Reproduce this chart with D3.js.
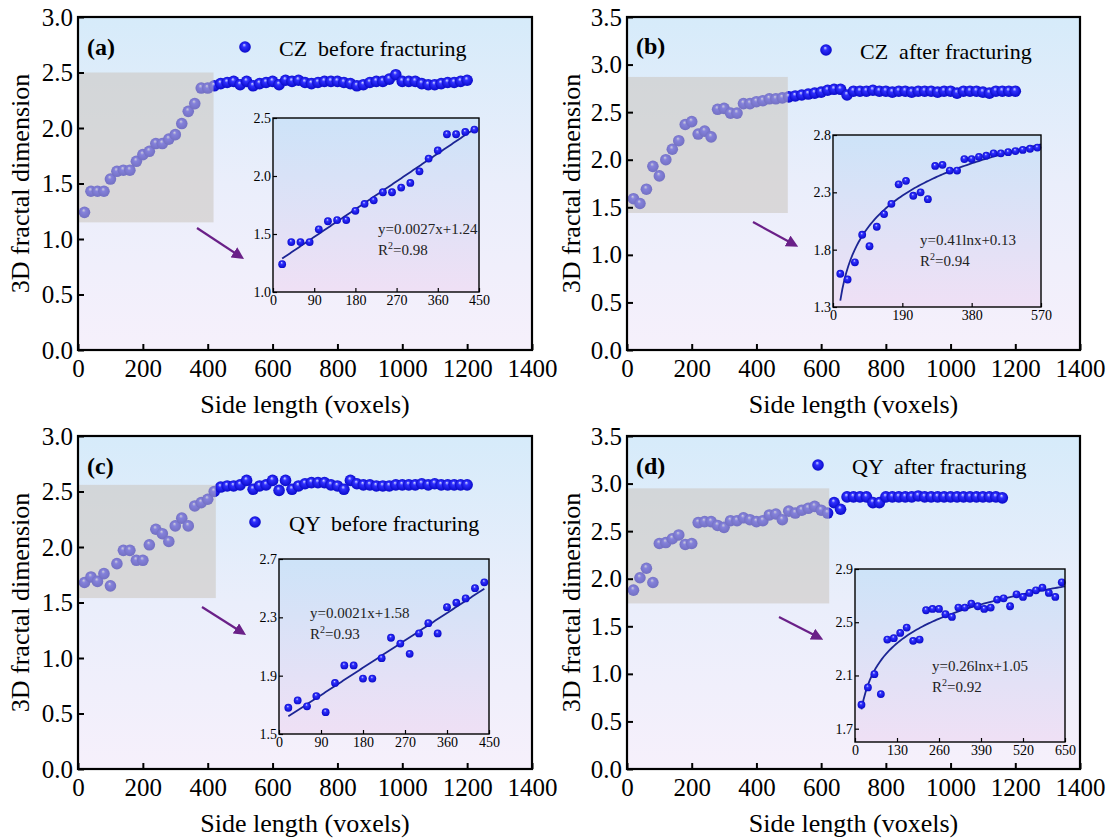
<!DOCTYPE html>
<html>
<head>
<meta charset="utf-8">
<script src="https://cdn.jsdelivr.net/npm/d3@7"></script>
<style>
  body { margin: 0; background: #fff; }
  svg, svg text { font-family: "Liberation Serif", "Times New Roman", serif; }
  svg { display: block; }
</style>
</head>
<body>
<svg id="chart" width="1112" height="838"></svg>
<script>
// side lengths of the boxes (voxels), shared by all four samples
const sideLengths = [20, 40, 60, 80, 100, 120, 140, 160, 180, 200, 220, 240, 260, 280, 300,
    320, 340, 360, 380, 400, 420, 440, 460, 480, 500, 520, 540, 560, 580, 600, 620, 640,
    660, 680, 700, 720, 740, 760, 780, 800, 820, 840, 860, 880, 900, 920, 940, 960, 980,
    1000, 1020, 1040, 1060, 1080, 1100, 1120, 1140, 1160, 1180, 1200];

// 3D fractal dimension
const czBefore = [1.24, 1.43, 1.43, 1.43, 1.54, 1.61, 1.62, 1.62, 1.70, 1.76, 1.79, 1.86,
    1.86, 1.90, 1.94, 2.04, 2.15, 2.22, 2.36, 2.36, 2.38, 2.40,
    2.41, 2.42, 2.39, 2.42, 2.38, 2.40, 2.41, 2.42, 2.39, 2.43, 2.42, 2.43, 2.41, 2.40,
    2.41, 2.42, 2.42, 2.42, 2.41, 2.40, 2.38, 2.39, 2.41, 2.42, 2.42, 2.44, 2.48, 2.42,
    2.42, 2.42, 2.40, 2.39, 2.39, 2.40, 2.41, 2.41, 2.42, 2.43];

const czAfter = [1.59, 1.54, 1.69, 1.93, 1.83, 2.00, 2.11, 2.20, 2.37, 2.40, 2.27, 2.30,
    2.24, 2.53, 2.54, 2.49, 2.49, 2.59, 2.59, 2.61, 2.62, 2.64, 2.64, 2.65, 2.66, 2.67,
    2.68, 2.69,
    2.70, 2.71, 2.73, 2.74, 2.74, 2.68, 2.72, 2.72, 2.72, 2.73, 2.72, 2.72, 2.71, 2.72,
    2.72, 2.71, 2.72, 2.72, 2.72, 2.71, 2.72, 2.72, 2.70, 2.72, 2.72, 2.72, 2.71, 2.70,
    2.72, 2.72, 2.72, 2.72];

const qyBefore = [1.68, 1.73, 1.69, 1.76, 1.65, 1.85, 1.97, 1.97, 1.88, 1.88, 2.02, 2.16,
    2.12, 2.05, 2.19, 2.26, 2.19, 2.37, 2.40, 2.43, 2.50, 2.54,
    2.55, 2.55, 2.56, 2.60, 2.52, 2.55, 2.56, 2.60, 2.51, 2.60, 2.52, 2.55, 2.57, 2.58,
    2.58, 2.58, 2.56, 2.55, 2.52, 2.60, 2.57, 2.56, 2.56, 2.55, 2.55, 2.55, 2.56, 2.56,
    2.56, 2.56, 2.57, 2.56, 2.57, 2.56, 2.56, 2.56, 2.56, 2.56];

const qyAfter = [1.88, 2.01, 2.11, 1.96, 2.37, 2.38, 2.42, 2.46, 2.36, 2.37, 2.59, 2.60,
    2.60, 2.56, 2.54, 2.61, 2.61, 2.64, 2.62, 2.60, 2.61, 2.67, 2.68, 2.62, 2.71, 2.69,
    2.72, 2.74, 2.76, 2.72, 2.69, 2.80,
    2.73, 2.86, 2.86, 2.86, 2.86, 2.80, 2.80, 2.86, 2.86, 2.86, 2.86, 2.86, 2.87, 2.86,
    2.86, 2.86, 2.86, 2.86, 2.86, 2.86, 2.86, 2.86, 2.86, 2.86, 2.86, 2.85];

// tick labels
const xTicksMain = [0, 200, 400, 600, 800, 1000, 1200, 1400];
const yTicks30 = [0, 0.5, 1.0, 1.5, 2.0, 2.5, 3.0];
const yTicks35 = [0, 0.5, 1.0, 1.5, 2.0, 2.5, 3.0, 3.5];
const insetXTicksA = [0, 90, 180, 270, 360, 450];
const insetYTicksA = [1.0, 1.5, 2.0, 2.5];
const insetXTicksB = [0, 190, 380, 570];
const insetYTicksB = [1.3, 1.8, 2.3, 2.8];
const insetXTicksC = [0, 90, 180, 270, 360, 450];
const insetYTicksC = [1.5, 1.9, 2.3, 2.7];
const insetXTicksD = [0, 130, 260, 390, 520, 650];
const insetYTicksD = [1.7, 2.1, 2.5, 2.9];

const serif = '"Liberation Serif", "Times New Roman", serif';

const panels = [
    {
        tag: "(a)", series: czBefore, legend: "CZ  before fracturing",
        box: { left: 78, right: 532, top: 17, bottom: 350 }, yMax: 3.0, yTicks: yTicks30,
        tagAt: [87, 47], legendAt: [245, 47], gray: { x: 418, y0: 1.15, y1: 2.50 },
        arrow: [[197, 228], [241, 257]], yTitleX: 20,
        inset: {
            box: { left: 273, right: 479, top: 118, bottom: 292 },
            xDomain: [0, 450], xTicks: insetXTicksA, yDomain: [1.0, 2.5], yTicks: insetYTicksA,
            fit: "linear", eq: "y=0.0027x+1.24", r2: "0.98", eqAt: [378, 229]
        }
    },
    {
        tag: "(b)", series: czAfter, legend: "CZ  after fracturing",
        box: { left: 627, right: 1080, top: 17, bottom: 350 }, yMax: 3.5, yTicks: yTicks35,
        tagAt: [636, 46], legendAt: [826, 50], gray: { x: 497, y0: 1.44, y1: 2.87 },
        arrow: [[753, 222], [795, 245]], yTitleX: 571,
        inset: {
            box: { left: 833, right: 1041, top: 135, bottom: 307 },
            xDomain: [0, 570], xTicks: insetXTicksB, yDomain: [1.3, 2.8], yTicks: insetYTicksB,
            fit: "log", eq: "y=0.41lnx+0.13", r2: "0.94", eqAt: [920, 240]
        }
    },
    {
        tag: "(c)", series: qyBefore, legend: "QY  before fracturing",
        box: { left: 78, right: 532, top: 436, bottom: 769 }, yMax: 3.0, yTicks: yTicks30,
        tagAt: [87, 466], legendAt: [255, 522], gray: { x: 425, y0: 1.54, y1: 2.56 },
        arrow: [[202, 607], [243, 633]], yTitleX: 20,
        inset: {
            box: { left: 279, right: 489, top: 559, bottom: 734 },
            xDomain: [0, 450], xTicks: insetXTicksC, yDomain: [1.5, 2.7], yTicks: insetYTicksC,
            fit: "linear", eq: "y=0.0021x+1.58", r2: "0.93", eqAt: [310, 613]
        }
    },
    {
        tag: "(d)", series: qyAfter, legend: "QY  after fracturing",
        box: { left: 627, right: 1080, top: 436, bottom: 769 }, yMax: 3.5, yTicks: yTicks35,
        tagAt: [636, 466], legendAt: [818, 465], gray: { x: 625, y0: 1.74, y1: 2.95 },
        arrow: [[779, 617], [820, 638]], yTitleX: 571,
        inset: {
            box: { left: 855, right: 1065, top: 569, bottom: 742 },
            xDomain: [0, 650], xTicks: insetXTicksD, yDomain: [1.6, 2.9], yTicks: insetYTicksD,
            fit: "log", eq: "y=0.26lnx+1.05", r2: "0.92", eqAt: [932, 666]
        }
    }
];

const svg = d3.select("#chart");
const defs = svg.append("defs");

// plot backgrounds: light blue at the top fading to lavender
const bgMain = defs.append("linearGradient").attr("id", "bgMain")
    .attr("x1", 0).attr("y1", 0).attr("x2", 0).attr("y2", 1);
bgMain.append("stop").attr("offset", 0).attr("stop-color", "#d6ebfa");
bgMain.append("stop").attr("offset", 0.5).attr("stop-color", "#eaeefb");
bgMain.append("stop").attr("offset", 1).attr("stop-color", "#f6f0fb");

const bgInset = defs.append("linearGradient").attr("id", "bgInset")
    .attr("x1", 0).attr("y1", 0).attr("x2", 0).attr("y2", 1);
bgInset.append("stop").attr("offset", 0).attr("stop-color", "#cde3f8");
bgInset.append("stop").attr("offset", 1).attr("stop-color", "#efe0f5");

// shaded sphere for the points
const ball = defs.append("radialGradient").attr("id", "ball")
    .attr("cx", 0.5).attr("cy", 0.5).attr("r", 0.55).attr("fx", 0.42).attr("fy", 0.3);
ball.append("stop").attr("offset", 0).attr("stop-color", "#d6dcff");
ball.append("stop").attr("offset", 0.3).attr("stop-color", "#3030ff");
ball.append("stop").attr("offset", 1).attr("stop-color", "#0606c4");

defs.append("marker").attr("id", "arrowHead")
    .attr("viewBox", "0 0 10 10").attr("refX", 7).attr("refY", 5)
    .attr("markerWidth", 5.5).attr("markerHeight", 5.5).attr("orient", "auto")
    .append("path").attr("d", "M0,0 L10,5 L0,10 z").attr("fill", "#6a2088");

// least squares fit of y = a*t + b, with t = x or ln(x)
function leastSquares(points, useLog) {
    const t = points.map(d => useLog ? Math.log(d[0]) : d[0]);
    const v = points.map(d => d[1]);
    const mt = d3.mean(t), mv = d3.mean(v);
    const a = d3.sum(t, (ti, i) => (ti - mt) * (v[i] - mv)) / d3.sum(t, ti => (ti - mt) ** 2);
    const b = mv - a * mt;
    return xv => a * (useLog ? Math.log(xv) : xv) + b;
}

function styleAxis(sel, size, width) {
    sel.attr("font-family", serif).attr("font-size", size);
    sel.select(".domain").remove();
    sel.selectAll(".tick line").attr("stroke", "#000").attr("stroke-width", width);
    sel.selectAll(".tick text").attr("fill", "#000");
}

function drawInset(g, inset, points) {
    const b = inset.box;
    const x = d3.scaleLinear().domain(inset.xDomain).range([b.left, b.right]);
    const y = d3.scaleLinear().domain(inset.yDomain).range([b.bottom, b.top]);
    const shown = points.filter(d => d[0] <= inset.xDomain[1]);

    g.append("rect")
        .attr("x", b.left).attr("y", b.top)
        .attr("width", b.right - b.left).attr("height", b.bottom - b.top)
        .attr("fill", "url(#bgInset)");

    // fitted trend
    const f = leastSquares(shown, inset.fit === "log");
    const x0 = shown[0][0];
    const x1 = inset.fit === "log" ? inset.xDomain[1] : shown[shown.length - 1][0];
    const samples = d3.range(0, 101).map(i => x0 + (x1 - x0) * i / 100);
    g.append("path")
        .datum(samples)
        .attr("d", d3.line().x(d => x(d)).y(d => y(f(d))))
        .attr("fill", "none")
        .attr("stroke", "#1c2594")
        .attr("stroke-width", 1.8);

    g.selectAll("circle.inpt")
        .data(shown)
        .join("circle")
        .attr("class", "inpt")
        .attr("cx", d => x(d[0]))
        .attr("cy", d => y(d[1]))
        .attr("r", 3.9)
        .attr("fill", "url(#ball)");

    g.append("g")
        .attr("transform", `translate(0,${b.bottom})`)
        .call(d3.axisBottom(x).tickValues(inset.xTicks).tickFormat(d3.format("d"))
            .tickSizeInner(-4).tickSizeOuter(0).tickPadding(3))
        .call(s => styleAxis(s, 14, 1.2));

    g.append("g")
        .attr("transform", `translate(${b.left},0)`)
        .call(d3.axisLeft(y).tickValues(inset.yTicks).tickFormat(d3.format(".1f"))
            .tickSizeInner(-4).tickSizeOuter(0).tickPadding(2))
        .call(s => styleAxis(s, 14, 1.2));

    g.append("rect")
        .attr("x", b.left).attr("y", b.top)
        .attr("width", b.right - b.left).attr("height", b.bottom - b.top)
        .attr("fill", "none").attr("stroke", "#000").attr("stroke-width", 1.4);

    const eq = g.append("g").attr("font-family", serif).attr("font-size", 15).attr("fill", "#222");
    eq.append("text")
        .attr("x", inset.eqAt[0]).attr("y", inset.eqAt[1]).attr("dy", "0.35em")
        .text(inset.eq);
    const r2 = eq.append("text")
        .attr("x", inset.eqAt[0]).attr("y", inset.eqAt[1] + 21).attr("dy", "0.35em");
    r2.append("tspan").text("R");
    r2.append("tspan").attr("font-size", 10).attr("dy", "-0.6em").text("2");
    r2.append("tspan").attr("dy", "0.4em").text("=" + inset.r2);
}

function drawPanel(p) {
    const b = p.box;
    const g = svg.append("g");
    const x = d3.scaleLinear().domain([0, 1400]).range([b.left, b.right]);
    const y = d3.scaleLinear().domain([0, p.yMax]).range([b.bottom, b.top]);
    const points = d3.zip(sideLengths, p.series);

    g.append("rect")
        .attr("x", b.left).attr("y", b.top)
        .attr("width", b.right - b.left).attr("height", b.bottom - b.top)
        .attr("fill", "url(#bgMain)");

    g.selectAll("circle.pt")
        .data(points)
        .join("circle")
        .attr("class", "pt")
        .attr("cx", d => x(d[0]))
        .attr("cy", d => y(d[1]))
        .attr("r", 5.8)
        .attr("fill", "url(#ball)");

    // zoomed region, translucent grey over the points
    g.append("rect")
        .attr("x", x(0)).attr("y", y(p.gray.y1))
        .attr("width", x(p.gray.x) - x(0))
        .attr("height", y(p.gray.y0) - y(p.gray.y1))
        .attr("fill", "#cbc4bd")
        .attr("fill-opacity", 0.55);

    // axes with inward ticks
    g.append("g")
        .attr("transform", `translate(0,${b.bottom})`)
        .call(d3.axisBottom(x).tickValues(xTicksMain).tickFormat(d3.format("d"))
            .tickSizeInner(-6).tickSizeOuter(0).tickPadding(9))
        .call(s => styleAxis(s, 25, 2));

    g.append("g")
        .attr("transform", `translate(${b.left},0)`)
        .call(d3.axisLeft(y).tickValues(p.yTicks).tickFormat(d3.format(".1f"))
            .tickSizeInner(-6).tickSizeOuter(0).tickPadding(5))
        .call(s => styleAxis(s, 25, 2));

    g.append("rect")
        .attr("x", b.left).attr("y", b.top)
        .attr("width", b.right - b.left).attr("height", b.bottom - b.top)
        .attr("fill", "none").attr("stroke", "#000").attr("stroke-width", 2.2);

    drawInset(g, p.inset, points);

    g.append("line")
        .attr("x1", p.arrow[0][0]).attr("y1", p.arrow[0][1])
        .attr("x2", p.arrow[1][0]).attr("y2", p.arrow[1][1])
        .attr("stroke", "#6a2088").attr("stroke-width", 2.2)
        .attr("marker-end", "url(#arrowHead)");

    // panel tag and legend
    g.append("text")
        .attr("x", p.tagAt[0]).attr("y", p.tagAt[1]).attr("dy", "0.35em")
        .attr("font-family", serif).attr("font-size", 24).attr("font-weight", "bold")
        .text(p.tag);

    g.append("circle")
        .attr("cx", p.legendAt[0]).attr("cy", p.legendAt[1])
        .attr("r", 5.8).attr("fill", "url(#ball)");
    g.append("text")
        .attr("x", p.legendAt[0] + 34).attr("y", p.legendAt[1] + 1).attr("dy", "0.35em")
        .attr("font-family", serif).attr("font-size", 22)
        .style("white-space", "pre")
        .text(p.legend);

    // axis titles
    g.append("text")
        .attr("x", (b.left + b.right) / 2).attr("y", b.bottom + 54).attr("dy", "0.35em")
        .attr("text-anchor", "middle")
        .attr("font-family", serif).attr("font-size", 26)
        .text("Side length (voxels)");

    g.append("text")
        .attr("transform", `translate(${p.yTitleX},${(b.top + b.bottom) / 2}) rotate(-90)`)
        .attr("dy", "0.35em")
        .attr("text-anchor", "middle")
        .attr("font-family", serif).attr("font-size", 26)
        .text("3D fractal dimension");
}

panels.forEach(drawPanel);
</script>
</body>
</html>
